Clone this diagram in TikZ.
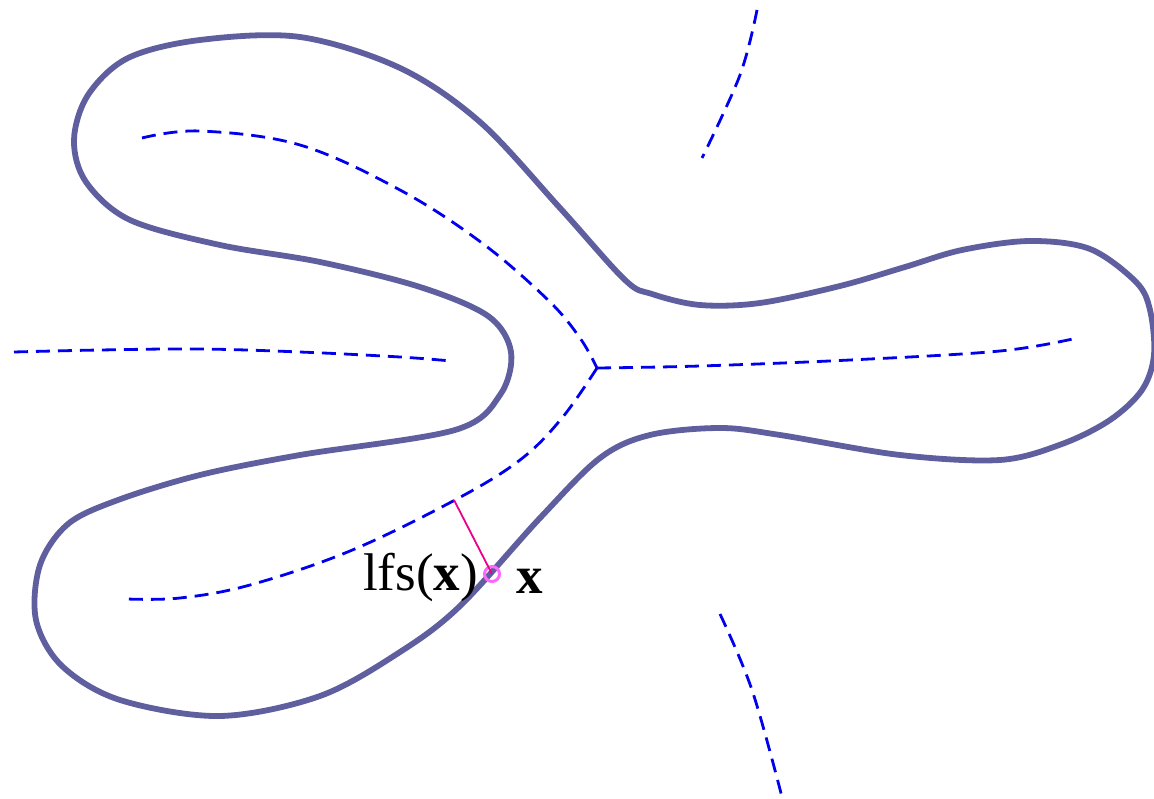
\documentclass[tikz,border=0pt]{standalone}
\usepackage{fontspec}
\setmainfont{Liberation Serif}
\definecolor{curvecol}{HTML}{5F5FA0}
\definecolor{medcol}{HTML}{0000EE}
\definecolor{ringcol}{HTML}{FF66FF}
\tikzset{
  shape curve/.style={draw=curvecol, line width=5.8pt, line join=round},
  medial/.style={draw=medcol, line width=2.8pt, dash pattern=on 14pt off 8pt},
  lfsline/.style={draw=magenta, line width=1.8pt},
  lbl/.style={font=\fontsize{53}{60}\selectfont, inner sep=0pt}
}
\begin{document}
\begin{tikzpicture}[x=1pt,y=-1pt]
\useasboundingbox (0,0) rectangle (1154,799);
% outer curve
\draw[shape curve] plot[smooth cycle, tension=0.55] coordinates {
 (625,280) (560,208) (480,122) (400,68) (300,37) (200,40) (128,58) (88,95) (74,140) (86,182)
 (130,220) (220,245) (320,262) (420,287) (488,316) (511,352) (500,395) (455,430)
 (300,455) (200,475) (118,500) (68,524) (40,565) (36,620) (62,666) (120,700)
 (220,716) (320,696) (400,652) (460,606) (540,518) (600,458) (650,435) (720,428)
 (780,435) (900,455) (1000,460) (1062,444) (1110,420) (1142,390) (1154,355)
 (1150,310) (1136,282) (1090,249) (1030,241) (962,250) (905,267) (840,286)
 (760,303) (700,305) (652,294)
};
% medial axis branches
\coordinate (j) at (597,368);
\draw[medial] plot[smooth, tension=0.6] coordinates {(142,138) (200,131) (300,145) (400,190) (482,243) (548,300) (580,338) (597,368)};
\draw[medial] plot[smooth, tension=0.6] coordinates {(597,368) (700,366) (850,360) (1000,351) (1077,338)};
\draw[medial] plot[smooth, tension=0.6] coordinates {(597,368) (562,418) (520,460) (455,500) (350,551) (250,585) (180,598) (127,599)};
\draw[medial] plot[smooth, tension=0.6] coordinates {(14,352) (100,350) (200,349) (300,352) (400,357) (451,361)};
\draw[medial] plot[smooth, tension=0.6] coordinates {(757,10) (740,75) (702,158)};
\draw[medial] plot[smooth, tension=0.6] coordinates {(720,614) (752,690) (782,797)};
% lfs
\coordinate (m) at (454,500);
\node[circle, draw=ringcol, line width=3pt, minimum size=15pt, inner sep=0pt] (x) at (492,574) {};
\draw[lfsline] (m) -- (x.center);
\node[lbl, anchor=east] (lfs) at (478,577) {lfs(\textbf{x})};
\node[lbl, anchor=west] (xl) at (516,581) {\textbf{x}};
\end{tikzpicture}
\end{document}
